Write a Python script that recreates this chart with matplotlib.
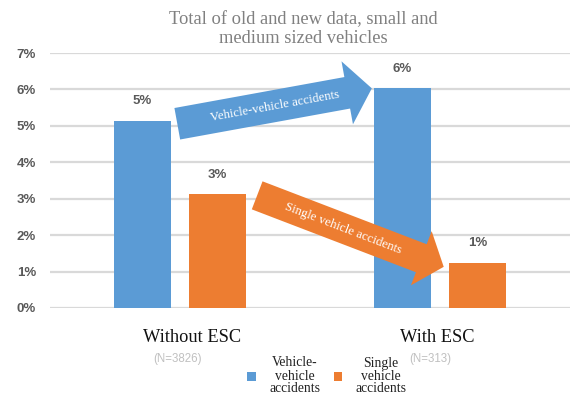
import numpy as np
import matplotlib
matplotlib.use("Agg")
from matplotlib import pyplot as plt
from matplotlib.patches import FancyArrow

# shares of accidents, with and without ESC
groups = ["Without ESC", "With ESC"]
group_n = ["(N=3826)", "(N=313)"]
vehicle_vehicle = [0.0514, 0.0603]
single_vehicle = [0.0312, 0.0124]
yticks = [0, 0.01, 0.02, 0.03, 0.04, 0.05, 0.06, 0.07]

BLUE = "#5B9BD5"
ORANGE = "#ED7D31"
SERIF = ["Liberation Serif", "DejaVu Serif"]
SANS = ["Liberation Sans", "DejaVu Sans"]

W, H = 578, 400
fig = plt.figure(figsize=(W / 100, H / 100), dpi=100)
fig.patch.set_facecolor("white")

# plot area: x 50..570 px, y 53..308 px (from top)
ax = fig.add_axes([50 / W, (H - 308) / H, 520 / W, 255 / H])
x = np.arange(len(groups))
bw = 0.221
off = 0.144

b1 = ax.bar(x - off, vehicle_vehicle, bw, color=BLUE, zorder=3,
            label="Vehicle-\nvehicle\naccidents")
b2 = ax.bar(x + off, single_vehicle, bw, color=ORANGE, zorder=3,
            label="Single\nvehicle\naccidents")

ax.set_xlim(-0.5, 1.5)
ax.set_ylim(0, 0.07)
ax.set_yticks(yticks)
ax.set_yticklabels(["%d%%" % round(v * 100) for v in yticks],
                   fontfamily=SANS, fontsize=9.5, fontweight="bold", color="#595959")
ax.yaxis.grid(True, color="#d9d9d9", lw=1.6, zorder=0)
ax.tick_params(axis="y", length=0, pad=10)
ax.set_xticks([])
for s in ax.spines.values():
    s.set_visible(False)

# value labels above the bars
for bars, vals in ((b1, vehicle_vehicle), (b2, single_vehicle)):
    for rect, v in zip(bars, vals):
        ax.annotate("%d%%" % round(v * 100),
                    (rect.get_x() + rect.get_width() / 2, v),
                    xytext=(0, 14), textcoords="offset points",
                    ha="center", va="center", fontfamily=SANS, fontsize=9.5,
                    fontweight="bold", color="#595959")

# category names and sample sizes under the groups
name_dx = [9, -2]
n_dx = [-2, -7]
for xi, name, n, ndx, nndx in zip(x, groups, group_n, name_dx, n_dx):
    ax.annotate(name, (xi, 0), xytext=(ndx, -21), textcoords="offset points",
                ha="center", va="center", fontfamily=SERIF, fontsize=13.2,
                color="#111111")
    ax.annotate(n, (xi, 0), xytext=(nndx, -37), textcoords="offset points",
                ha="center", va="center", fontfamily=SANS, fontsize=8.3,
                color="#c0c0c0")

fig.text(303 / W, 1 - 29 / H,
         "Total of old and new data, small and\nmedium sized vehicles",
         ha="center", va="center", fontfamily=SERIF, fontsize=13.3,
         color="#808080", linespacing=1.1)

leg = fig.legend(handles=[b1, b2], loc="center", bbox_to_anchor=(327 / W, 1 - 376 / H),
                 ncol=2, frameon=False, handlelength=0.6, handleheight=0.6,
                 handletextpad=1.0, columnspacing=1.0,
                 prop={"family": SERIF, "size": 9.8})
for t in leg.get_texts():
    t.set_multialignment("center")
    t.set_color("#222222")
    t.set_linespacing(1.0)

# overlay in display pixels for the trend arrows
ov = fig.add_axes([0, 0, 1, 1], zorder=5)
ov.set_xlim(0, W)
ov.set_ylim(0, H)
ov.axis("off")
ov.patch.set_alpha(0)


def bar_corner(rect, side):
    xx = rect.get_x() + (rect.get_width() if side == "right" else 0)
    return ax.transData.transform((xx, rect.get_height()))


def draw_arrow(start, end, width, head_w, head_l, color, text, frac):
    dx, dy = end - start
    ov.add_patch(FancyArrow(start[0], start[1], dx, dy, width=width,
                            head_width=head_w, head_length=head_l,
                            length_includes_head=True, color=color, lw=0))
    ang = np.degrees(np.arctan2(dy, dx))
    c = start + frac * (end - start)
    ov.text(c[0], c[1], text, rotation=ang, rotation_mode="anchor",
            ha="center", va="center", color="white", fontfamily=SERIF,
            fontsize=9.3)


# vehicle-vehicle: from top of first blue bar to top of second
s = bar_corner(b1[0], "right") + np.array([6, -3])
e = bar_corner(b1[1], "left") + np.array([-2, 0])
draw_arrow(s, e, 32, 64, 25, BLUE, "Vehicle-vehicle accidents", 0.5)

# single vehicle: from top of first orange bar to top of second
s = bar_corner(b2[0], "right") + np.array([11, -1])
e = bar_corner(b2[1], "left") + np.array([-5, -4])
draw_arrow(s, e, 30, 58, 24, ORANGE, "Single vehicle accidents", 0.46)

fig.savefig("out.png", dpi=100)
